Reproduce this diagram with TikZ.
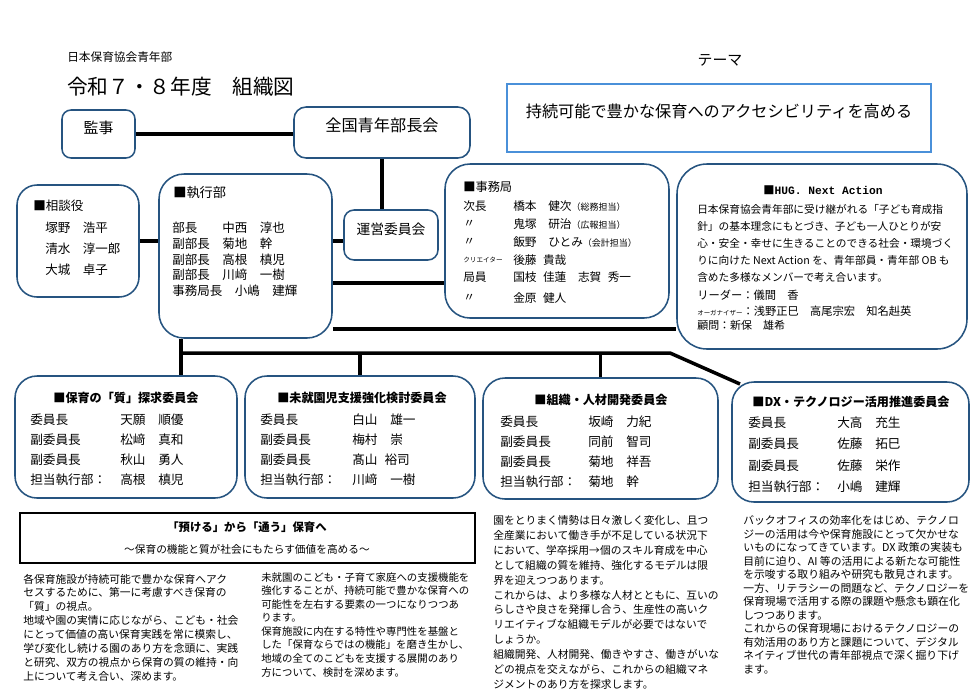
\documentclass[tikz,border=0pt]{standalone}
\usepackage{fontspec}
\setmainfont{Noto Sans CJK JP}
\newfontfamily\hugfont{Liberation Mono}
\usetikzlibrary{fit,backgrounds}
\newlength\px
\setlength\px{0.025cm}
\newcommand\setfs[1]{\fontsize{#1}{#1}\selectfont}
\newcommand\duty[1]{{\setfs{6.4pt}（#1）}}
\newcommand\hs{\hspace{0.55em}}
\definecolor{boxblue}{RGB}{38,84,128}
\definecolor{themeblue}{RGB}{74,144,217}
\begin{document}
\begin{tikzpicture}[x=1\px, y=-1\px,
  orgbox/.style={draw=boxblue, fill=white, line width=1.1pt, rounded corners=#1, inner sep=0pt},
  orgbox/.default=22\px,
  link/.style={line width=2.5pt},
  lbl/.style={anchor=west, inner sep=0pt},
  para/.style={anchor=north west, inner sep=0pt, align=left}]
\useasboundingbox (0,0) rectangle (980,693);

% header and theme
\node[lbl, font=\setfs{8.3pt}] (org) at (67,57) {日本保育協会青年部};
\node[lbl, font=\setfs{14.7pt}] (title) at (67,87) {令和７・８年度　組織図};
\node[inner sep=0, font=\setfs{10.6pt}] (themehd) at (720,60) {テーマ};
\node[draw=themeblue, line width=1.4pt, inner sep=0, fit={(507,84) (931,152)}, font=\setfs{11.5pt}] (theme) {持続可能で豊かな保育へのアクセシビリティを高める};

% boxes
\node[orgbox=9\px, fit={(62,110) (135,158)}, font=\setfs{10.6pt}] (kanji) {監事};
\node[orgbox=12\px, fit={(294,107) (470,158)}, font=\setfs{11.5pt}] (zenkoku) {全国青年部長会};
\node[orgbox=10\px, fit={(344,210) (438,260)}, font=\setfs{9.8pt}] (unei) {運営委員会};
\node[orgbox=20\px, fit={(17,185) (139,297)}] (soudan) {};
\node[orgbox=25\px, fit={(159,174) (332,338)}] (exec) {};
\node[orgbox=25\px, fit={(445,164) (669,318)}] (jimu) {};
\node[orgbox=30\px, fit={(677,164) (967,349)}] (hug) {};
\node[orgbox, fit={(15,376) (237,498)}] (hoiku) {};
\node[orgbox, fit={(245,376) (475,498)}] (mishu) {};
\node[orgbox, fit={(483,378) (718,499)}] (soshiki) {};
\node[orgbox, fit={(732,382) (969,502)}] (dx) {};

% connectors
\coordinate (jlev) at (0,283);
\coordinate (hlev) at (0,329);
\coordinate (busL) at (181,353);
\coordinate (busR) at (670,353);
\coordinate (dxin) at (740,384);
\begin{scope}[on background layer]
\draw[link] (kanji.east) -- (kanji.east -| zenkoku.west);
\draw[link] (zenkoku.south) -- (zenkoku.south |- unei.north);
\draw[link] (soudan.east) -- (soudan.east -| exec.west);
\draw[link] (soudan.east -| exec.east) -- (soudan.east -| unei.west);
\draw[link] (exec.east |- jlev) -- (jimu.west |- jlev);
\draw[link] (exec.east |- hlev) -- (hug.west |- hlev);
\draw[link] (busL |- exec.south) -- (busL |- hoiku.north);
\draw[link] (busL) -- (busR) -- (dxin);
\draw[link] (mishu.north |- busL) -- (mishu.north);
\draw[link] (soshiki.north |- busL) -- (soshiki.north);
\end{scope}

% 相談役
\node[lbl, font=\setfs{8.9pt}] (sdt) at (33,206) {■相談役};
\foreach \n [count=\i] in {塚野　浩平, 清水　淳一郎, 大城　卓子}
  \node[lbl, font=\setfs{8.9pt}] (sd\i) at (45,207+21*\i) {\n};

% 執行部
\node[lbl, font=\setfs{9.4pt}] (ext) at (173,193) {■執行部};
\foreach \n [count=\i] in {部長　　中西　淳也, 副部長　菊地　幹, 副部長　高根　槙児, 副部長　川﨑　一樹, 事務局長　小嶋　建輝}
  \node[lbl, font=\setfs{8.9pt}] (ex\i) at (172,212.4+15.7*\i) {\n};

% 事務局
\node[lbl, font=\setfs{8.7pt}] (jmt) at (463,187) {■事務局};
\foreach \y/\r/\n [count=\i] in {206/次長/{橋本　健次\duty{総務担当}}, 224/〃/{鬼塚　研治\duty{広報担当}}, 242/〃/{飯野　ひとみ\duty{会計担当}}, 260/{\setfs{4.7pt}クリエイター}/{後藤\hs 貴哉}, 277/局員/{国枝\hs 佳蓮　志賀\hs 秀一}, 298/〃/{金原\hs 健人}}{
  \node[lbl, font=\setfs{8.3pt}] (jml\i) at (463,\y) {\r};
  \node[lbl, font=\setfs{8.3pt}] (jmn\i) at (513,\y) {\n};
}

% HUG. Next Action
\node[inner sep=0, font=\setfs{8pt}] (hugt) at (823,190) {{\bfseries■}{\hugfont\bfseries HUG. Next Action}};
\node[para, font=\fontsize{7.6pt}{12pt}\selectfont] (hugp) at (697,204.6) {日本保育協会青年部に受け継がれる「子ども育成指\\
針」の基本理念にもとづき、子ども一人ひとりが安\\
心・安全・幸せに生きることのできる社会・環境づく\\
りに向けた Next Action を、青年部員・青年部 OB も\\
含めた多様なメンバーで考え合います。};
\node[lbl, font=\setfs{8pt}] (hugl) at (697,295) {リーダー：儀間　香};
\node[lbl, font=\setfs{8pt}] (hugo) at (697,311) {{\setfs{4.6pt}オーガナイザー}：浅野正巳　高尾宗宏　知名赳英};
\node[lbl, font=\setfs{7.8pt}] (hugk) at (697,325) {顧問：新保　雄希};

% 委員会
\node[inner sep=0, font=\bfseries\setfs{8.6pt}] (hqt) at (126,398) {■保育の「質」探求委員会};
\foreach \r/\n [count=\i] in {委員長/天願　順優, 副委員長/松﨑　真和, 副委員長/秋山　勇人, 担当執行部：/高根　槙児}{
  \node[lbl, font=\setfs{9pt}] (hql\i) at (30,400+20*\i) {\r};
  \node[lbl, font=\setfs{9pt}] (hqn\i) at (120,400+20*\i) {\n};
}
\node[inner sep=0, font=\bfseries\setfs{8.6pt}] (mst) at (362,398) {■未就園児支援強化検討委員会};
\foreach \r/\n [count=\i] in {委員長/白山　雄一, 副委員長/梅村　崇, 副委員長/髙山\hs 裕司, 担当執行部：/川﨑　一樹}{
  \node[lbl, font=\setfs{9pt}] (msl\i) at (260,400+20*\i) {\r};
  \node[lbl, font=\setfs{9pt}] (msn\i) at (352,400+20*\i) {\n};
}
\node[inner sep=0, font=\bfseries\setfs{8.6pt}] (sst) at (601,400) {■組織・人材開発委員会};
\foreach \r/\n [count=\i] in {委員長/坂崎　力紀, 副委員長/同前　智司, 副委員長/菊地　祥吾, 担当執行部：/菊地　幹}{
  \node[lbl, font=\setfs{9pt}] (ssl\i) at (500,402+20*\i) {\r};
  \node[lbl, font=\setfs{9pt}] (ssn\i) at (588,402+20*\i) {\n};
}
\node[inner sep=0, font=\bfseries\setfs{8.6pt}] (dxt) at (851,402) {■DX・テクノロジー活用推進委員会};
\foreach \r/\n [count=\i] in {委員長/大高　充生, 副委員長/佐藤　拓巳, 副委員長/佐藤　栄作, 担当執行部：/小嶋　建輝}{
  \node[lbl, font=\setfs{9pt}] (dxl\i) at (748,401.5+21.3*\i) {\r};
  \node[lbl, font=\setfs{9pt}] (dxn\i) at (837,401.5+21.3*\i) {\n};
}

% banner
\node[draw, line width=1pt, inner sep=0, fit={(20,513) (475,563)}] (banner) {};
\node[inner sep=0, font=\bfseries\setfs{8.1pt}] (bant) at (247,527) {「預ける」から「通う」保育へ};
\node[inner sep=0, font=\setfs{7.6pt}] (bans) at (247,549) {～保育の機能と質が社会にもたらす価値を高める～};

% texts
\node[para, font=\fontsize{7.65pt}{9.9pt}\selectfont] (p1) at (23,573.6) {各保育施設が持続可能で豊かな保育へアク\\
セスするために、第一に考慮すべき保育の\\
「質」の視点。\\
地域や園の実情に応じながら、こども・社会\\
にとって価値の高い保育実践を常に模索し、\\
学び変化し続ける園のあり方を念頭に、実践\\
と研究、双方の視点から保育の質の維持・向\\
上について考え合い、深めます。};
\node[para, font=\fontsize{7.4pt}{9.65pt}\selectfont] (p2) at (261,572) {未就園のこども・子育て家庭への支援機能を\\
強化することが、持続可能で豊かな保育への\\
可能性を左右する要素の一つになりつつあ\\
ります。\\
保育施設に内在する特性や専門性を基盤と\\
した「保育ならではの機能」を磨き生かし、\\
地域の全てのこどもを支援する展開のあり\\
方について、検討を深めます。};
\node[para, font=\fontsize{7.65pt}{10.55pt}\selectfont] (p3) at (493,515.6) {園をとりまく情勢は日々激しく変化し、且つ\\
全産業において働き手が不足している状況下\\
において、学卒採用→個のスキル育成を中心\\
として組織の質を維持、強化するモデルは限\\
界を迎えつつあります。\\
これからは、より多様な人材とともに、互いの\\
らしさや良さを発揮し合う、生産性の高いク\\
リエイティブな組織モデルが必要ではないで\\
しょうか。\\
組織開発、人材開発、働きやすさ、働きがいな\\
どの視点を交えながら、これからの組織マネ\\
ジメントのあり方を探求します。};
\node[para, font=\fontsize{7.7pt}{9.57pt}\selectfont] (p4) at (743,515.6) {バックオフィスの効率化をはじめ、テクノロ\\
ジーの活用は今や保育施設にとって欠かせな\\
いものになってきています。DX 政策の実装も\\
目前に迫り、AI 等の活用による新たな可能性\\
を示唆する取り組みや研究も散見されます。\\
一方、リテラシーの問題など、テクノロジーを\\
保育現場で活用する際の課題や懸念も顕在化\\
しつつあります。\\
これからの保育現場におけるテクノロジーの\\
有効活用のあり方と課題について、デジタル\\
ネイティブ世代の青年部視点で深く掘り下げ\\
ます。};
\end{tikzpicture}
\end{document}
